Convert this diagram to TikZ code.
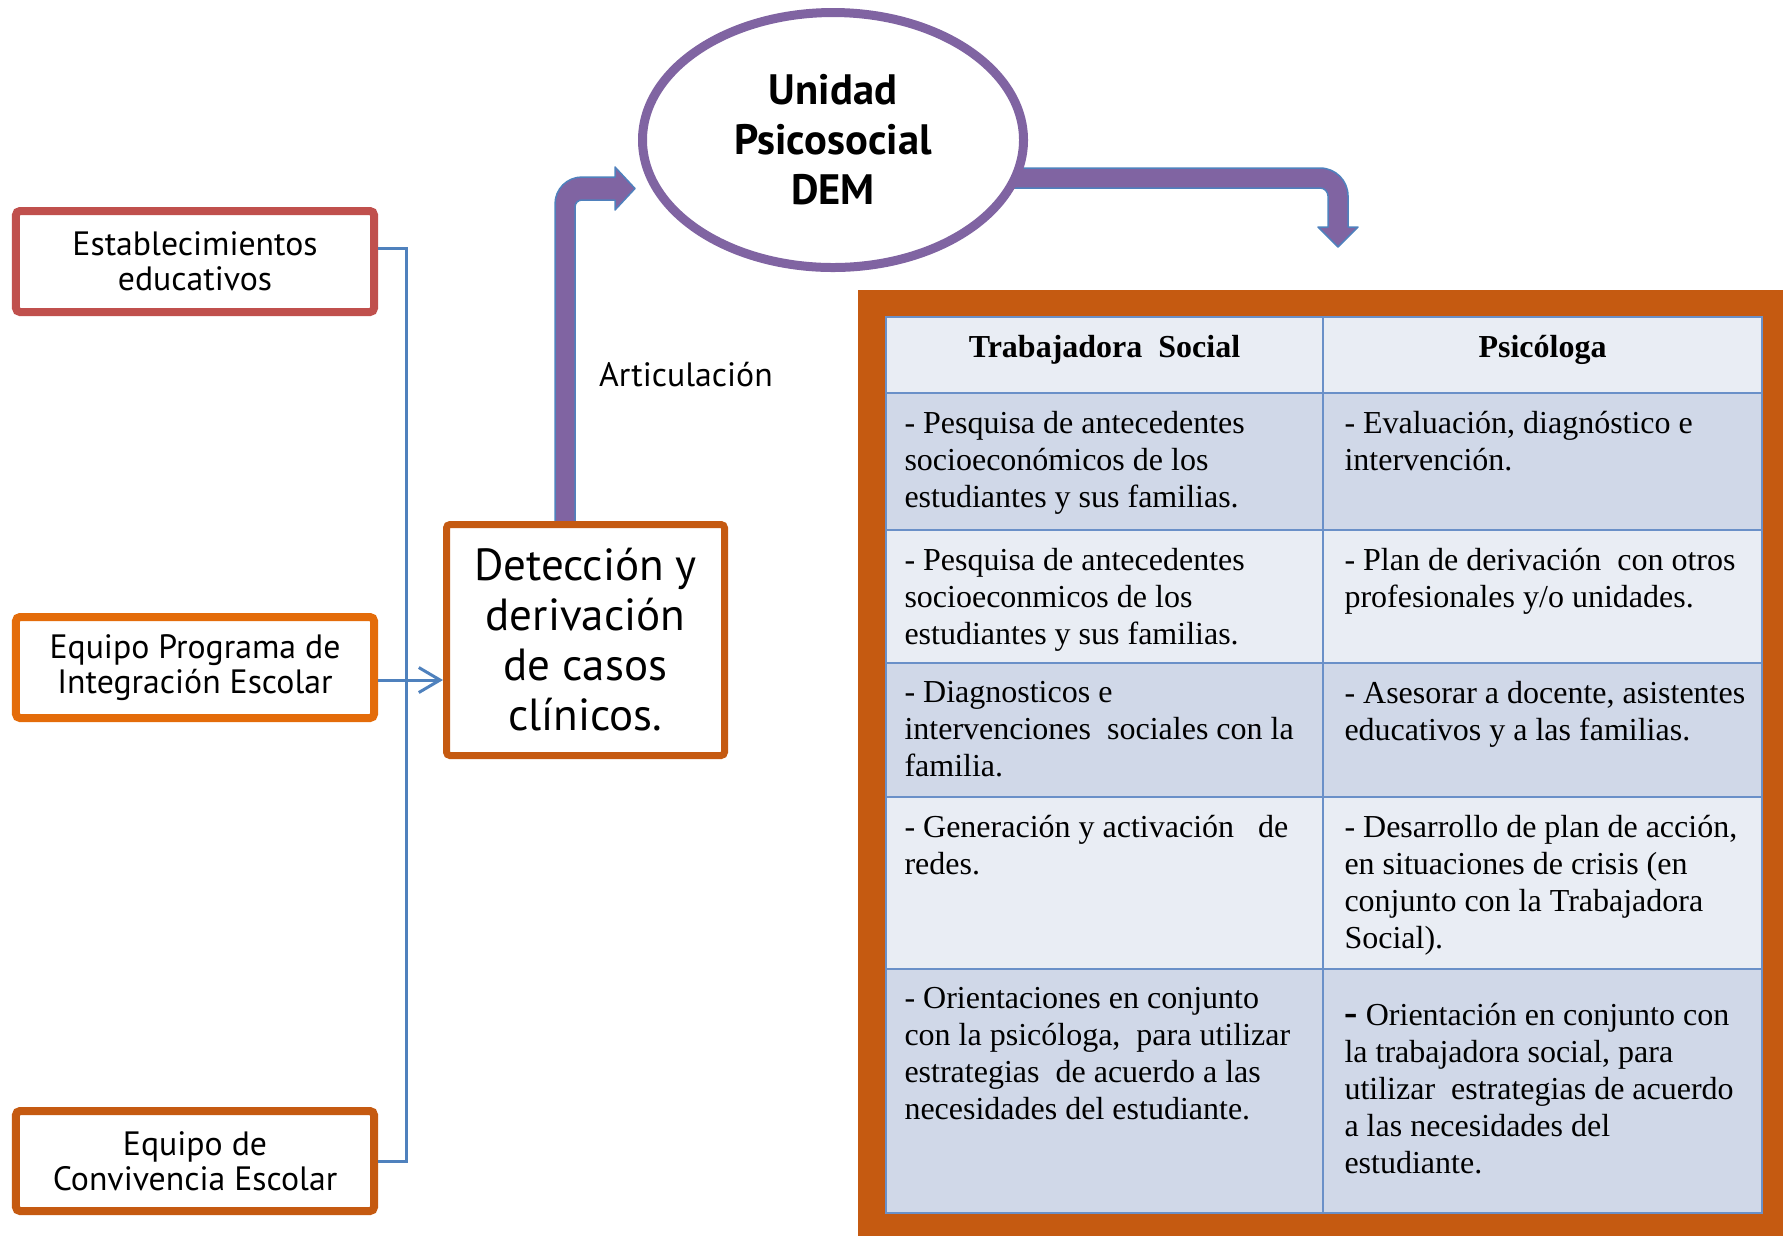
\documentclass[tikz,border=0pt]{standalone}
\usepackage{fontspec}
\setmainfont{Liberation Serif}
\newfontfamily\ptsans{PT Sans}
\usetikzlibrary{arrows.meta,calc}
\definecolor{purp}{HTML}{8064A2}
\definecolor{outl}{HTML}{4F81BD}
\definecolor{redb}{HTML}{C0504D}
\definecolor{orb}{HTML}{E46C0A}
\definecolor{dorb}{HTML}{C55A11}
\definecolor{busblue}{HTML}{4F81BD}
\definecolor{rowlight}{HTML}{E9EDF4}
\definecolor{rowdark}{HTML}{D0D8E8}
\definecolor{gridblue}{HTML}{6A90C8}
\tikzset{
  srcbox/.style={draw, line width=3.2pt, rounded corners=1.6pt, fill=white,
    minimum width=143.2pt, minimum height=40.4pt, align=center, inner sep=0pt,
    font=\ptsans\fontsize{13.5}{14}\selectfont},
  detbox/.style={draw=dorb, line width=2.8pt, rounded corners=1.4pt, fill=white,
    minimum width=111.2pt, minimum height=92.4pt, align=center, inner sep=0pt,
    font=\ptsans\fontsize{18}{20}\selectfont},
  unit/.style={ellipse, draw=purp, line width=3.6pt, fill=white,
    minimum width=152.4pt, minimum height=102pt, align=center, inner sep=0pt,
    font=\ptsans\bfseries\fontsize{17}{20}\selectfont},
  bus/.style={draw=busblue, line width=1.2pt},
  bigarrow/.style={fill=purp, draw=outl, line width=0.6pt, line join=round},
  gridline/.style={draw=gridblue, line width=1pt},
  cell/.style={anchor=north west, inner sep=0pt, align=left,
    font=\fontsize{12.8}{14.8}\selectfont},
  head/.style={anchor=base, inner sep=0pt, font=\bfseries\fontsize{12.8}{14.8}\selectfont},
  lbl/.style={inner sep=0pt, font=\ptsans\fontsize{13.5}{16}\selectfont}
}
\usetikzlibrary{shapes.geometric}
\begin{document}
\begin{tikzpicture}[x=0.4pt,y=-0.4pt]
\useasboundingbox (0,0) rectangle (1783,1236);
% orange frame
\fill[dorb] (858,290) rectangle (1783,1236);
% table rows
\foreach \ya/\yb/\c in {317/393/rowlight, 393/530/rowdark, 530/663/rowlight, 663/797/rowdark, 797/969/rowlight, 969/1213/rowdark}
  \fill[\c] (886,\ya) rectangle (1762,\yb);
\draw[gridline] (886,317) rectangle (1762,1213);
\foreach \y in {393,530,663,797,969}
  \draw[gridline] (886,\y) -- (1762,\y);
\draw[gridline] (1323,317) -- (1323,1213);
% header
\node[head] (h1) at (1104.5,357) {Trabajadora\ \ Social};
\node[head] (h2) at (1542.5,357) {Psicóloga};
% cells
\node[cell] (c11) at (904,411) {- Pesquisa de antecedentes\\socioeconómicos de los\\estudiantes y sus familias.};
\node[cell] (c12) at (1344,411) {- Evaluación, diagnóstico e\\intervención.};
\node[cell] (c21) at (904,548) {- Pesquisa de antecedentes\\socioeconmicos de los\\estudiantes y sus familias.};
\node[cell] (c22) at (1344,548) {- Plan de derivación\ \ con otros\\profesionales y/o unidades.};
\node[cell] (c31) at (904,681) {- Diagnosticos e\\intervenciones\ \ sociales con la\\familia.};
\node[cell] (c32) at (1344,681) {- Asesorar a docente, asistentes\\educativos y a las familias.};
\node[cell] (c41) at (904,815) {- Generación y activación\ \ \ de\\redes.};
\node[cell] (c42) at (1344,815) {- Desarrollo de plan de acción,\\en situaciones de crisis (en\\conjunto con la Trabajadora\\Social).};
\node[cell] (c51) at (904,987) {- Orientaciones en conjunto\\con la psicóloga,\ \ para utilizar\\estrategias\ \ de acuerdo a las\\necesidades del estudiante.};
\node[cell] (c52) at (1344,1003) {{\bfseries\fontsize{16}{14.8}\selectfont -} Orientación en conjunto con\\la trabajadora social, para\\utilizar\ \ estrategias de acuerdo\\a las necesidades del\\estudiante.};
% purple arrows
\path[bigarrow] (555,528) -- (555,204) .. controls (555,189) and (567,177) .. (582,177)
  -- (615,177) -- (615,167) -- (635,188.5) -- (615,210) -- (615,200) -- (582,200)
  .. controls (578,200) and (575,203) .. (575,207) -- (575,528) -- cycle;
\path[bigarrow] (1005,168) -- (1320,168) .. controls (1335.5,168) and (1348,180.5) .. (1348,196)
  -- (1348,227) -- (1358,227) -- (1338,247) -- (1318,227) -- (1328,227) -- (1328,196)
  .. controls (1328,191.6) and (1324.4,188) .. (1320,188) -- (1005,188) -- cycle;
% main nodes
\node[unit] (u) at (833,140) {Unidad\\Psicosocial\\DEM};
\node[detbox] (det) at (585.5,640) {Detección y\\derivación\\de casos\\clínicos.};
\node[srcbox, draw=redb] (b1) at (195,261.5) {Establecimientos\\educativos};
\node[srcbox, draw=orb] (b2) at (195,667.5) {Equipo Programa de\\Integración Escolar};
\node[srcbox, draw=dorb, minimum height=40pt] (b3) at (195,1161) {Equipo de\\Convivencia Escolar};
\node[lbl] (art) at (686,375) {Articulación};
% blue connectors
\coordinate (busx) at (406,0);
\draw[bus] ([yshift=5.4pt]b1.east) -| (busx |- b3.east) -- (b3.east);
\draw[bus, -{Straight Barb[length=8.5pt,width=10pt]}] ([yshift=-5pt]b2.east) -- ([yshift=-5pt]b2.east -| det.west);
\end{tikzpicture}
\end{document}
